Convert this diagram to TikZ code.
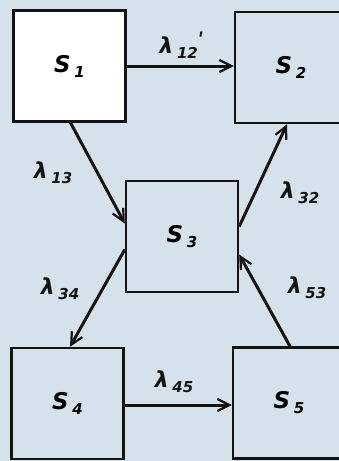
\documentclass[tikz,border=0pt]{standalone}
\usepackage{fontspec}
\usetikzlibrary{arrows.meta}
\newfontfamily\handfont{DejaVu Sans}
\definecolor{bgblue}{RGB}{214,226,235}
\definecolor{ink}{RGB}{20,20,20}
\newcommand{\ix}[1]{\raisebox{-5pt}{\fontsize{15}{15}\selectfont #1}}

\begin{document}
\begin{tikzpicture}[
  x=1pt,y=-1pt,
  >={Straight Barb[length=12pt,width=12pt,line width=2.2pt]},
  state/.style ={draw=ink,line width=2.4pt,minimum width=112pt,
                  minimum height=111pt,inner sep=0pt,
                  font=\handfont\bfseries\itshape\fontsize{23}{26}\selectfont},
  rate/.style  ={text=ink,inner sep=1pt,
                  font=\handfont\bfseries\itshape\fontsize{22}{24}\selectfont},
  trans/.style ={->,draw=ink,line width=3pt}]

% --- page and background ---
\clip (0,0) rectangle (339,461);
\fill[bgblue] (0,0) rectangle (339,461);

% --- the five states ---
\node[state,fill=white] (s1) at (69.5,66)  {S\,\ix{1}};
\node[state]            (s2) at (291,67.5) {S\,\ix{2}};
\node[state]            (s3) at (182,236.5) {S\,\ix{3}};
\node[state]            (s4) at (67.5,403.5) {S\,\ix{4}};
\node[state]            (s5) at (289,403) {S\,\ix{5}};

% --- transitions ---
\draw[trans] (s1.east) -- (s2.west |- s1.east);
\draw[trans] ([xshift=1pt]s1.south) -- ([yshift=13pt]s3.west);
\draw[trans] ([yshift=10pt]s3.east) -- ([xshift=-4pt]s2.south);
\draw[trans] ([yshift=-13pt]s3.west) -- ([xshift=2.5pt]s4.north);
\draw[trans] ([xshift=1pt]s5.north) -- ([yshift=-18pt]s3.east);
\draw[trans] ([yshift=-1.5pt]s4.east) -- ([yshift=-1.5pt]s5.west |- s4.east);

% --- rates ---
\node[rate] (l12) at (182,45)  {λ\,\ix{12}\raisebox{4pt}{ʹ}};
\node[rate] (l13) at (53,173)  {λ\,\ix{13}};
\node[rate] (l32) at (300,193) {λ\,\ix{32}};
\node[rate] (l34) at (60,289)  {λ\,\ix{34}};
\node[rate] (l53) at (307,288) {λ\,\ix{53}};
\node[rate] (l45) at (174,382) {λ\,\ix{45}};

\end{tikzpicture}
\end{document}
